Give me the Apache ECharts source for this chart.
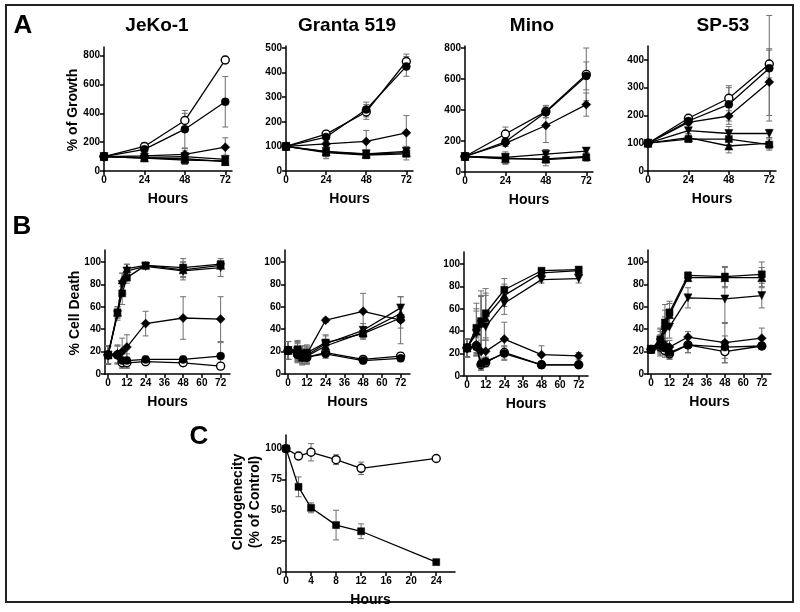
<!DOCTYPE html>
<html>
<head>
<meta charset="utf-8">
<script src="https://cdn.jsdelivr.net/npm/echarts@6/dist/echarts.min.js"></script>
<style>
html, body { margin: 0; padding: 0; background: #fff; }
#chart { width: 800px; height: 612px; }
</style>
</head>
<body>
<div id="chart"></div>
<script>
// series order in rows A and B:
// open circle, filled circle, diamond, triangle down, square, triangle up
const hoursA = [0, 24, 48, 72];
const jekoGrowth = [
    [100, 170, 350, 770],
    [100, 150, 290, 480],
    [100, 105, 115, 165],
    [100, 95, 100, 80],
    [100, 90, 75, 70],
    [100, 90, 85, 65]
];
const jekoGrowthErr = [
    [0, 25, 50, 25], [0, 20, 130, 175], [0, 15, 40, 65],
    [0, 20, 40, 30], [0, 15, 30, 30], [0, 15, 30, 25]
];
const grantaGrowth = [
    [100, 150, 240, 445],
    [100, 138, 250, 425],
    [100, 110, 120, 155],
    [100, 80, 70, 80],
    [100, 75, 65, 70],
    [100, 78, 68, 75]
];
const grantaGrowthErr = [
    [0, 15, 30, 30], [0, 10, 30, 40], [0, 10, 45, 70],
    [0, 20, 15, 20], [0, 25, 15, 25], [0, 20, 15, 15]
];
const minoGrowth = [
    [100, 245, 390, 630],
    [100, 195, 385, 620],
    [100, 185, 300, 435],
    [100, 95, 115, 135],
    [100, 90, 80, 95],
    [100, 85, 85, 100]
];
const minoGrowthErr = [
    [0, 45, 40, 170], [0, 30, 35, 90], [0, 20, 110, 75],
    [0, 20, 30, 20], [0, 40, 40, 25], [0, 30, 25, 25]
];
const sp53Growth = [
    [100, 190, 262, 385],
    [100, 180, 240, 370],
    [100, 175, 198, 320],
    [100, 145, 135, 135],
    [100, 115, 115, 95],
    [100, 120, 90, 100]
];
const sp53GrowthErr = [
    [0, 10, 45, 50], [0, 10, 60, 190], [0, 10, 30, 120],
    [0, 10, 25, 15], [0, 10, 20, 20], [0, 10, 25, 20]
];

const hoursB = [0, 6, 9, 12, 24, 48, 72];
const jekoDeath = [
    [17, 17, 10, 10, 11, 10, 7],
    [17, 17, 12, 12, 13, 13, 16],
    [17, 18, 20, 24, 45, 50, 49],
    [17, 53, 80, 92, 96, 92, 95],
    [17, 55, 72, 86, 97, 95, 98],
    [17, 55, 84, 94, 97, 93, 97]
];
const jekoDeathErr = [
    [8, 8, 5, 5, 3, 3, 3], [8, 8, 6, 6, 3, 3, 12], [8, 8, 12, 11, 11, 19, 20],
    [8, 5, 10, 6, 2, 8, 8], [8, 5, 10, 5, 2, 8, 3], [8, 5, 6, 4, 2, 7, 3]
];
const grantaDeath = [
    [21, 18, 16, 15, 19, 13, 16],
    [21, 17, 15, 15, 18, 12, 14],
    [21, 21, 18, 18, 48, 56, 48],
    [21, 20, 16, 17, 27, 39, 59],
    [21, 22, 18, 19, 28, 36, 50],
    [21, 19, 15, 16, 25, 37, 54]
];
const grantaDeathErr = [
    [8, 7, 6, 6, 4, 3, 3], [8, 7, 6, 6, 4, 3, 3], [8, 8, 7, 7, 2, 16, 21],
    [8, 8, 7, 7, 7, 6, 10], [8, 8, 7, 7, 7, 5, 9], [8, 8, 7, 7, 6, 5, 8]
];
const minoDeath = [
    [25, 27, 10, 12, 21, 10, 10],
    [25, 26, 11, 13, 20, 10, 10],
    [25, 28, 22, 22, 33, 19, 18],
    [25, 38, 46, 44, 65, 86, 87],
    [25, 43, 49, 56, 77, 94, 95],
    [25, 40, 47, 52, 72, 92, 94]
];
const minoDeathErr = [
    [8, 8, 5, 4, 6, 3, 2], [8, 8, 5, 4, 6, 3, 2], [8, 10, 10, 10, 15, 8, 3],
    [8, 20, 25, 30, 10, 3, 4], [8, 22, 27, 22, 10, 2, 2], [8, 20, 25, 20, 10, 3, 3]
];
const sp53Death = [
    [22, 24, 21, 18, 26, 20, 25],
    [22, 25, 23, 19, 26, 24, 25],
    [22, 27, 26, 24, 33, 28, 32],
    [22, 28, 39, 42, 68, 67, 70],
    [22, 31, 46, 55, 88, 87, 89],
    [22, 30, 43, 53, 86, 86, 86]
];
const sp53DeathErr = [
    [3, 8, 6, 5, 7, 10, 3], [3, 8, 6, 5, 7, 10, 3], [3, 8, 6, 6, 5, 18, 9],
    [3, 10, 12, 10, 9, 22, 11], [3, 10, 16, 10, 3, 9, 11], [3, 10, 14, 10, 3, 9, 9]
];

const hoursC = [0, 2, 4, 8, 12, 24];
const clonoControl = [100, 94, 97, 91, 84, 92];
const clonoControlErr = [0, 3, 7, 4, 5, 2];
const clonoTreated = [100, 69, 52, 38, 33, 8];
const clonoTreatedErr = [0, 8, 4, 12, 6, 1];

const ticksGrowth800 = [0, 200, 400, 600, 800];
const ticksGrowth500 = [0, 100, 200, 300, 400, 500];
const ticksGrowth400 = [0, 100, 200, 300, 400];
const ticksHoursA = [0, 24, 48, 72];
const ticksHoursB = [0, 12, 24, 36, 48, 60, 72];
const ticksDeath = [0, 20, 40, 60, 80, 100];
const ticksClono = [0, 25, 50, 75, 100];
const ticksHoursC = [0, 4, 8, 12, 16, 20, 24];

const font = '"Liberation Sans", Arial, sans-serif';

const markers = [
    {symbol: 'circle', size: 8, fill: '#fff'},
    {symbol: 'circle', size: 8, fill: '#000'},
    {symbol: 'diamond', size: 9, fill: '#000'},
    {symbol: 'triangle', size: 8, fill: '#000', rotate: 180},
    {symbol: 'rect', size: 7, fill: '#000'},
    {symbol: 'triangle', size: 8, fill: '#000'}
];

const panels = [
    {grid: {left: 104, top: 47, width: 128, height: 124}, x: [0, 76, ticksHoursA], y: [0, 860, ticksGrowth800],
        hours: hoursA, values: jekoGrowth, errors: jekoGrowthErr},
    {grid: {left: 286, top: 46, width: 127, height: 125}, x: [0, 76, ticksHoursA], y: [0, 508, ticksGrowth500],
        hours: hoursA, values: grantaGrowth, errors: grantaGrowthErr},
    {grid: {left: 465, top: 46, width: 128, height: 126}, x: [0, 76, ticksHoursA], y: [0, 813, ticksGrowth800],
        hours: hoursA, values: minoGrowth, errors: minoGrowthErr},
    {grid: {left: 648, top: 46, width: 128, height: 125}, x: [0, 76, ticksHoursA], y: [0, 450, ticksGrowth400],
        hours: hoursA, values: sp53Growth, errors: sp53GrowthErr},
    {grid: {left: 105, top: 250, width: 125, height: 124}, x: [-2, 78, ticksHoursB], y: [0, 110.7, ticksDeath],
        hours: hoursB, values: jekoDeath, errors: jekoDeathErr},
    {grid: {left: 285, top: 250, width: 125, height: 124}, x: [-2, 78, ticksHoursB], y: [0, 110.7, ticksDeath],
        hours: hoursB, values: grantaDeath, errors: grantaDeathErr},
    {grid: {left: 464, top: 252, width: 124, height: 124}, x: [-2, 78, ticksHoursB], y: [0, 110.7, ticksDeath],
        hours: hoursB, values: minoDeath, errors: minoDeathErr},
    {grid: {left: 648, top: 250, width: 123, height: 124}, x: [-2, 78, ticksHoursB], y: [0, 110.7, ticksDeath],
        hours: hoursB, values: sp53Death, errors: sp53DeathErr},
    {grid: {left: 286, top: 435, width: 169, height: 137}, x: [0, 27, ticksHoursC], y: [0, 111, ticksClono],
        hours: hoursC, values: [clonoControl, clonoTreated], errors: [clonoControlErr, clonoTreatedErr],
        markerIdx: [0, 4]}
];

function errorBar(params, api) {
    const x = api.value(0), y = api.value(1), e = api.value(2);
    if (!e) return;
    const top = api.coord([x, y + e]);
    const bot = api.coord([x, y - e]);
    const w = 3;
    const st = {stroke: '#6f6f6f', lineWidth: 1};
    return {
        type: 'group',
        children: [
            {type: 'line', shape: {x1: top[0], y1: top[1], x2: bot[0], y2: bot[1]}, style: st},
            {type: 'line', shape: {x1: top[0] - w, y1: top[1], x2: top[0] + w, y2: top[1]}, style: st},
            {type: 'line', shape: {x1: bot[0] - w, y1: bot[1], x2: bot[0] + w, y2: bot[1]}, style: st}
        ]
    };
}

const labelStyle = {fontSize: 10, fontWeight: 'bold', color: '#000', fontFamily: font, margin: 4};
const nameStyle = {fontSize: 14, fontWeight: 'bold', color: '#000', fontFamily: font};
const lineAxis = {show: true, onZero: false, lineStyle: {color: '#000', width: 1.5}};

const grids = [], xAxes = [], yAxes = [], series = [];
panels.forEach((p, i) => {
    grids.push(p.grid);
    xAxes.push({
        type: 'value', gridIndex: i, min: p.x[0], max: p.x[1],
        name: 'Hours', nameLocation: 'middle', nameGap: 21, nameTextStyle: nameStyle,
        axisLine: lineAxis,
        axisTick: {show: true, length: 4, customValues: p.x[2], lineStyle: {color: '#000', width: 1.5}},
        axisLabel: Object.assign({customValues: p.x[2]}, labelStyle),
        splitLine: {show: false}
    });
    yAxes.push({
        type: 'value', gridIndex: i, min: p.y[0], max: p.y[1],
        axisLine: lineAxis,
        axisTick: {show: true, length: 4, customValues: p.y[2], lineStyle: {color: '#000', width: 1.5}},
        axisLabel: Object.assign({customValues: p.y[2]}, labelStyle),
        splitLine: {show: false}
    });
    p.values.forEach((vals, k) => {
        const m = markers[p.markerIdx ? p.markerIdx[k] : k];
        series.push({
            type: 'custom', xAxisIndex: i, yAxisIndex: i, z: 1, silent: true,
            renderItem: errorBar,
            encode: {x: 0, y: 1},
            data: p.hours.map((h, j) => [h, vals[j], p.errors[k][j]])
        });
        series.push({
            type: 'line', xAxisIndex: i, yAxisIndex: i, z: 3,
            symbol: m.symbol, symbolSize: m.size, symbolRotate: m.rotate || 0,
            showAllSymbol: true,
            lineStyle: {color: '#000', width: 1.3},
            itemStyle: {color: m.fill, borderColor: '#000', borderWidth: m.fill === '#fff' ? 1.4 : 0.5, opacity: 1},
            data: p.hours.map((h, j) => [h, vals[j]])
        });
    });
});

function txt(text, x, y, size, rot) {
    return {
        type: 'text', x: x, y: y, rotation: rot || 0, silent: true,
        style: {text: text, fill: '#000', font: 'bold ' + size + 'px ' + font, align: 'center', verticalAlign: 'middle'}
    };
}

const chart = echarts.init(document.getElementById('chart'), null, {renderer: 'canvas'});
chart.setOption({
    animation: false,
    backgroundColor: '#fff',
    grid: grids,
    xAxis: xAxes,
    yAxis: yAxes,
    series: series,
    graphic: [
        {type: 'rect', shape: {x: 6, y: 5, width: 787, height: 597}, style: {fill: null, stroke: '#222', lineWidth: 2}, silent: true},
        txt('A', 23, 26, 26),
        txt('B', 22, 227, 26),
        txt('C', 199, 437, 26),
        txt('JeKo-1', 157, 26, 19),
        txt('Granta 519', 347, 26, 19),
        txt('Mino', 532, 26, 19),
        txt('SP-53', 723, 26, 19),
        txt('% of Growth', 73, 110, 14, Math.PI / 2),
        txt('% Cell Death', 75, 313, 14, Math.PI / 2),
        txt('Clonogenecity', 238, 502, 14, Math.PI / 2),
        txt('(% of Control)', 255, 502, 14, Math.PI / 2)
    ]
});
</script>
</body>
</html>
